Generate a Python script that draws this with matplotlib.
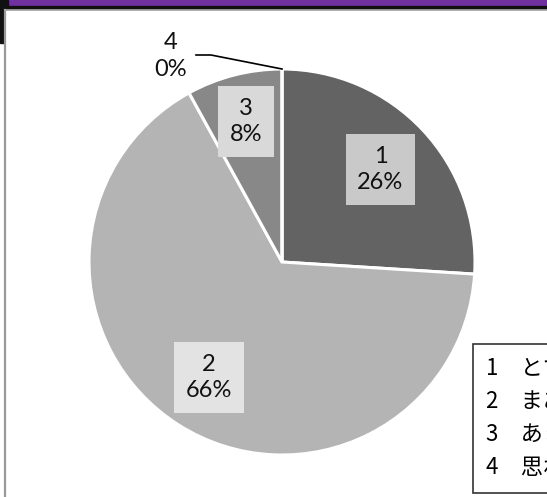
import numpy as np
import matplotlib.pyplot as plt
from matplotlib.patches import Rectangle

# データ
categories = ["1", "2", "3", "4"]
legend_names = ["とても思う", "まあまあ思う", "あまり思わない", "思わない"]
values = [26, 66, 8, 0]
slice_colors = ["#636363", "#b4b4b4", "#888888", "#d0d0d0"]
box_colors = ["#c9c9c9", "#e3e3e3", "#d9d9d9"]

W, H = 547, 497
fig = plt.figure(figsize=(W / 100, H / 100), dpi=100)
ax = fig.add_axes([0, 0, 1, 1])

# 枠の装飾
fig.patches.append(Rectangle((0, 1 - 6 / H), 1, 6 / H, transform=fig.transFigure,
                             color="#7030a0", zorder=0))
fig.patches.append(Rectangle((0, 1 - 9 / H), 1, 3 / H, transform=fig.transFigure,
                             color="#111111", zorder=1))
fig.patches.append(Rectangle((0, 1 - 9 / H), 8 / W, 9 / H, transform=fig.transFigure,
                             color="#111111", zorder=1))
fig.patches.append(Rectangle((0, 1 - 43 / H), 3.5 / W, 43 / H, transform=fig.transFigure,
                             color="#111111", zorder=1))
fig.add_artist(plt.Line2D([4.5 / W, 4.5 / W], [0, 1 - 10 / H], transform=fig.transFigure,
                          color="#999999", lw=1.6))
fig.add_artist(plt.Line2D([4.5 / W, 1], [1 - 10 / H, 1 - 10 / H], transform=fig.transFigure,
                          color="#aaaaaa", lw=1.2))

cx, cy, r = 282, H - 262, 193
wedges, _ = ax.pie(values, colors=slice_colors, startangle=90, counterclock=False,
                   center=(cx, cy), radius=r, frame=True,
                   wedgeprops=dict(edgecolor="white", linewidth=2.2))
ax.set_xlim(0, W)
ax.set_ylim(0, H)
ax.set_aspect("equal")
ax.axis("off")

total = sum(values)
label_font = ["Lato", "DejaVu Sans"]
dist = [0.70, 0.71, 0.75]
for i, w in enumerate(wedges[:3]):
    mid = np.deg2rad((w.theta1 + w.theta2) / 2)
    x = cx + dist[i] * r * np.cos(mid)
    y = cy + dist[i] * r * np.sin(mid)
    pct = round(values[i] / total * 100)
    ax.text(x, y, f"{categories[i]}\n{pct}%", ha="center", va="center",
            fontsize=17, family=label_font, linespacing=1.3, color="#111111",
            bbox=dict(boxstyle="square", pad=0.5, fc=box_colors[i], ec="none"))

# 0% のラベルと引き出し線
w4 = wedges[3]
a4 = np.deg2rad(w4.theta1)
px, py = cx + r * np.cos(a4), cy + r * np.sin(a4)
ax.plot([px, 211, 196], [py, H - 55, H - 55], color="black", lw=1.2)
ax.text(171, H - 56, f"{categories[3]}\n{round(values[3] / total * 100)}%",
        ha="center", va="center", fontsize=17, family=label_font,
        linespacing=1.3, color="#111111")

# 凡例
handles = [Rectangle((0, 0), 1, 1, visible=False) for _ in categories]
labels = [f"{c}\u3000{n}" for c, n in zip(categories, legend_names)]
leg = ax.legend(handles, labels, loc="upper left",
                bbox_to_anchor=(473 / W, 1 - 344 / H), bbox_transform=fig.transFigure,
                prop=dict(family=["Noto Sans CJK JP", "DejaVu Sans"], size=16),
                handlelength=0, handletextpad=0, labelspacing=0.45,
                borderpad=0.6, borderaxespad=0, fancybox=False, frameon=True)
leg.get_frame().set_edgecolor("black")
leg.get_frame().set_linewidth(1.2)

fig.savefig("out.png", dpi=100)
